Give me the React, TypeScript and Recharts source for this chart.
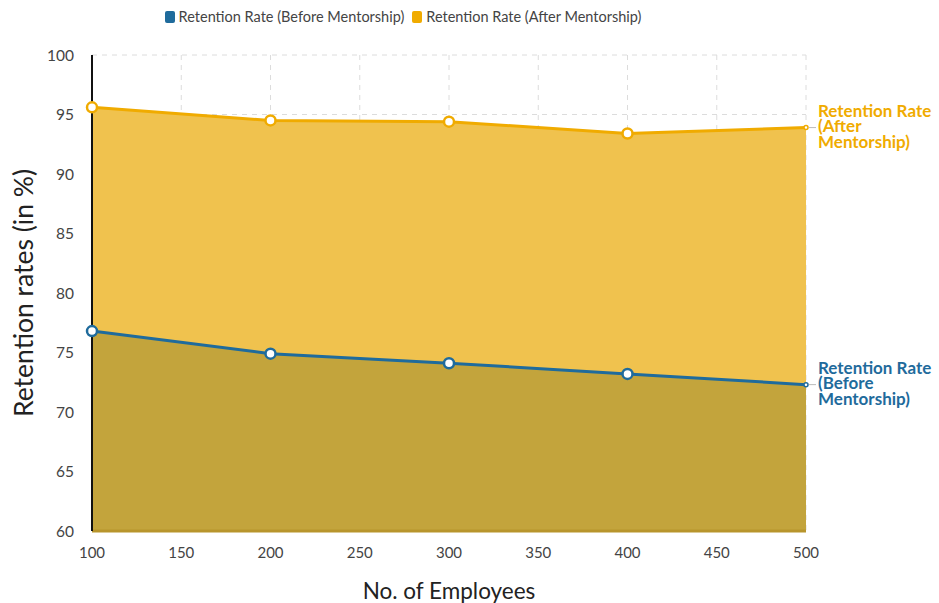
import React from "react"
import {
  AreaChart,
  Area,
  XAxis,
  YAxis,
  CartesianGrid,
  Legend,
} from "recharts"

// data
const employees = [100, 200, 300, 400, 500]
const beforeRates = [76.8, 74.9, 74.1, 73.2, 72.3]
const afterRates = [95.6, 94.5, 94.4, 93.4, 93.9]
const xTicks = [100, 150, 200, 250, 300, 350, 400, 450, 500]
const yTicks = [60, 65, 70, 75, 80, 85, 90, 95, 100]

const BLUE = "#1f6b9c"
const GOLD = "#f0ab00"
const FONT = "Lato, 'Noto Sans', sans-serif"

const data = employees.map((e, i) => ({
  employees: e,
  before: beforeRates[i],
  after: afterRates[i],
}))

const lastIndex = employees.length - 1

function makeDot(color: string) {
  return (props: any) => {
    const { cx, cy, index } = props
    if (cx == null || cy == null) return <g key={index} />
    const last = index === lastIndex
    return (
      <circle
        key={index}
        cx={cx}
        cy={cy}
        r={last ? 2 : 5}
        fill="#fff"
        stroke={color}
        strokeWidth={last ? 1.5 : 2.5}
      />
    )
  }
}

// label at the end of a series, wrapped over three lines
function makeEndLabel(color: string, lines: string[]) {
  const offsets = [-15, 0, 16]
  return (props: any) => {
    const { x, y, index } = props
    if (index !== lastIndex) return null
    return (
      <g>
        <line x1={x + 3} y1={y} x2={x + 10} y2={y} stroke="#bbb" strokeWidth={1} />
        {lines.map((l, i) => (
          <text
            key={i}
            x={x + 12}
            y={y + offsets[i]}
            fill={color}
            fontFamily={FONT}
            fontSize={17}
            fontWeight={700}
            dominantBaseline="middle"
          >
            {l}
          </text>
        ))}
      </g>
    )
  }
}

const legendItems = [
  { label: "Retention Rate (Before Mentorship)", color: BLUE },
  { label: "Retention Rate (After Mentorship)", color: GOLD },
]

function LegendContent() {
  return (
    <div
      style={{
        display: "flex",
        justifyContent: "center",
        gap: 8,
        fontFamily: FONT,
        fontSize: 14.5,
        color: "#444",
      }}
    >
      {legendItems.map((it) => (
        <div key={it.label} style={{ display: "flex", alignItems: "center" }}>
          <span
            style={{
              display: "inline-block",
              width: 10,
              height: 12,
              borderRadius: 2,
              background: it.color,
              marginRight: 4,
            }}
          />
          {it.label}
        </div>
      ))}
    </div>
  )
}

export default function App() {
  return (
    <div style={{ position: "absolute", left: 0, top: 0, background: "#fff" }}>
      <AreaChart
        width={939}
        height={603}
        data={data}
        margin={{ top: 38, right: 133, bottom: 10, left: 0 }}
      >
        <CartesianGrid stroke="#dcdcdc" strokeDasharray="5 5" />
        <XAxis
          dataKey="employees"
          type="number"
          domain={[100, 500]}
          ticks={xTicks}
          height={62}
          tickLine={false}
          axisLine={{ stroke: "#b8952c", strokeWidth: 3 }}
          tick={{ fill: "#444", fontSize: 15, fontFamily: FONT }}
          tickMargin={10}
          label={{
            value: "No. of Employees",
            position: "insideBottom",
            offset: -6,
            fill: "#222",
            fontSize: 22.5,
            fontFamily: FONT,
          }}
        />
        <YAxis
          type="number"
          domain={[60, 100]}
          ticks={yTicks}
          width={92}
          tickLine={false}
          axisLine={{ stroke: "#111", strokeWidth: 2 }}
          tick={{ fill: "#444", fontSize: 15.5, fontFamily: FONT }}
          tickMargin={12}
          label={{
            value: "Retention rates (in %)",
            angle: -90,
            position: "insideLeft",
            offset: 24,
            style: { textAnchor: "middle" },
            fill: "#222",
            fontSize: 26.5,
            fontFamily: FONT,
          }}
        />
        <Legend
          verticalAlign="top"
          wrapperStyle={{ top: 8 }}
          content={<LegendContent />}
        />
        <Area
          type="linear"
          dataKey="after"
          baseValue={60}
          stroke={GOLD}
          strokeWidth={3}
          fill="#f0c24e"
          fillOpacity={1}
          dot={makeDot(GOLD)}
          activeDot={false}
          label={makeEndLabel(GOLD, ["Retention Rate", "(After", "Mentorship)"])}
          isAnimationActive={false}
        />
        <Area
          type="linear"
          dataKey="before"
          baseValue={60}
          stroke={BLUE}
          strokeWidth={3}
          fill="#c3a43c"
          fillOpacity={1}
          dot={makeDot(BLUE)}
          activeDot={false}
          label={makeEndLabel(BLUE, ["Retention Rate", "(Before", "Mentorship)"])}
          isAnimationActive={false}
        />
      </AreaChart>
    </div>
  )
}
